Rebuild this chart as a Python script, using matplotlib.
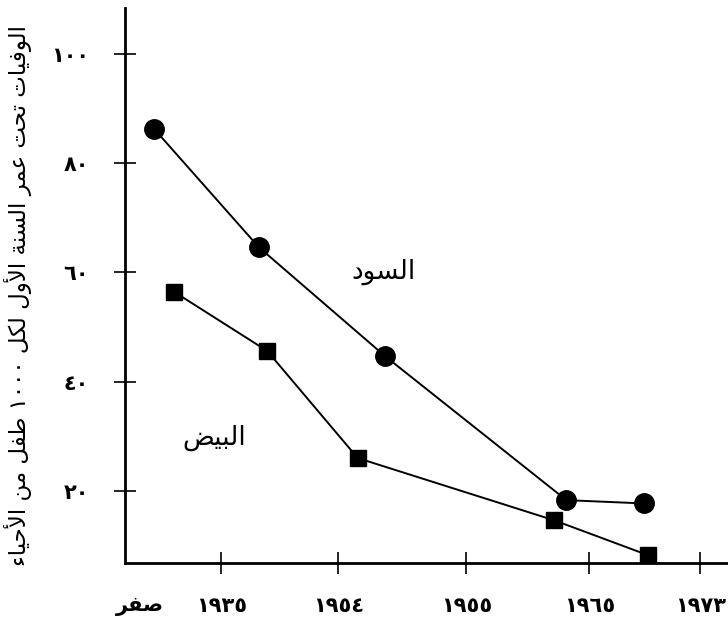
import matplotlib
matplotlib.use("Agg")
import matplotlib.pyplot as plt
import matplotlib.transforms as mtransforms

# values
x_tick_pos = [0.80, 1.77, 2.83, 3.85, 4.77]
x_tick_labels = ["١٩٣٥", "١٩٥٤", "١٩٥٥", "١٩٦٥", "١٩٧٣"]
y_ticks = [20, 40, 60, 80, 100]
y_tick_labels = ["٢٠", "٤٠", "٦٠", "٨٠", "١٠٠"]

black_x = [0.24, 1.11, 2.16, 3.66, 4.30]
black_y = [86.3, 64.6, 44.6, 18.3, 17.7]
white_x = [0.41, 1.18, 1.93, 3.56, 4.34]
white_y = [56.4, 45.6, 26.0, 14.6, 8.2]

black_name = "السود"
white_name = "البيض"
zero_label = "صفر"
y_title = "الوفيات تحت عمر السنة الأول لكل ١٠٠٠ طفل من الأحياء"

# matplotlib has no Arabic shaping, so map letters to presentation forms
# (isolated, final, initial, medial) and lay words out right to left
FORMS = {
    "ء": ("\uFE80",),
    "أ": ("\uFE83", "\uFE84"),
    "ا": ("\uFE8D", "\uFE8E"),
    "ب": ("\uFE8F", "\uFE90", "\uFE91", "\uFE92"),
    "ة": ("\uFE93", "\uFE94"),
    "ت": ("\uFE95", "\uFE96", "\uFE97", "\uFE98"),
    "ح": ("\uFEA1", "\uFEA2", "\uFEA3", "\uFEA4"),
    "د": ("\uFEA9", "\uFEAA"),
    "ر": ("\uFEAD", "\uFEAE"),
    "س": ("\uFEB1", "\uFEB2", "\uFEB3", "\uFEB4"),
    "ص": ("\uFEB9", "\uFEBA", "\uFEBB", "\uFEBC"),
    "ض": ("\uFEBD", "\uFEBE", "\uFEBF", "\uFEC0"),
    "ط": ("\uFEC1", "\uFEC2", "\uFEC3", "\uFEC4"),
    "ع": ("\uFEC9", "\uFECA", "\uFECB", "\uFECC"),
    "ف": ("\uFED1", "\uFED2", "\uFED3", "\uFED4"),
    "ك": ("\uFED9", "\uFEDA", "\uFEDB", "\uFEDC"),
    "ل": ("\uFEDD", "\uFEDE", "\uFEDF", "\uFEE0"),
    "م": ("\uFEE1", "\uFEE2", "\uFEE3", "\uFEE4"),
    "ن": ("\uFEE5", "\uFEE6", "\uFEE7", "\uFEE8"),
    "و": ("\uFEED", "\uFEEE"),
    "ي": ("\uFEF1", "\uFEF2", "\uFEF3", "\uFEF4"),
}
LAM_ALEF = {"ا": ("\uFEFB", "\uFEFC"), "أ": ("\uFEF7", "\uFEF8")}


def shape_word(word):
    out = []
    i = 0
    while i < len(word):
        c = word[i]
        if c not in FORMS:
            out.append(c)
            i += 1
            continue
        prev = word[i - 1] if i > 0 else None
        join_prev = prev in FORMS and len(FORMS[prev]) == 4
        if c == "ل" and i + 1 < len(word) and word[i + 1] in LAM_ALEF:
            iso, fin = LAM_ALEF[word[i + 1]]
            out.append(fin if join_prev else iso)
            i += 2
            continue
        nxt = word[i + 1] if i + 1 < len(word) else None
        forms = FORMS[c]
        join_next = len(forms) == 4 and nxt in FORMS
        if join_prev and join_next:
            out.append(forms[3])
        elif join_prev:
            out.append(forms[1])
        elif join_next:
            out.append(forms[2])
        else:
            out.append(forms[0])
        i += 1
    if any(ch in FORMS for ch in word):
        out.reverse()
    return "".join(out)


def ar(text):
    return " ".join(shape_word(w) for w in reversed(text.split(" ")))


plt.rcParams["font.family"] = ["DejaVu Sans"]

fig = plt.figure(figsize=(7.28, 6.24), dpi=100)
ax = fig.add_axes([0.1717, 0.0978, 0.8283, 0.8894])

ax.plot(black_x, black_y, color="black", linewidth=1.4, marker="o",
        markersize=14, markerfacecolor="black", zorder=3)
ax.plot(white_x, white_y, color="black", linewidth=1.4, marker="s",
        markersize=11, markerfacecolor="black", zorder=3)

ax.text(2.14, 60.1, ar(black_name), fontsize=19, ha="center", va="center")
ax.text(0.74, 29.7, ar(white_name), fontsize=19, ha="center", va="center")

ax.set_xlim(0, 5)
ax.set_ylim(6.8, 108.4)

ax.set_xticks(x_tick_pos)
ax.set_xticklabels(x_tick_labels, fontsize=15, fontweight="bold")
ax.set_yticks(y_ticks)
ax.set_yticklabels(y_tick_labels, fontsize=15, fontweight="bold")
ax.tick_params(axis="both", direction="inout", length=16, width=1.2,
               colors="black")
ax.tick_params(axis="x", pad=16)
ax.tick_params(axis="y", pad=18)

for side in ["top", "right"]:
    ax.spines[side].set_visible(False)
for side in ["left", "bottom"]:
    ax.spines[side].set_linewidth(2)

trans = mtransforms.blended_transform_factory(ax.transData, ax.transAxes)
ax.text(0.12, -0.077, ar(zero_label), transform=trans, fontsize=15,
        fontweight="bold", ha="center", va="center")

fig.text(0.025, 0.526, ar(y_title), rotation=90, fontsize=16.5,
         ha="center", va="center")

fig.savefig("out.png", dpi=100)
